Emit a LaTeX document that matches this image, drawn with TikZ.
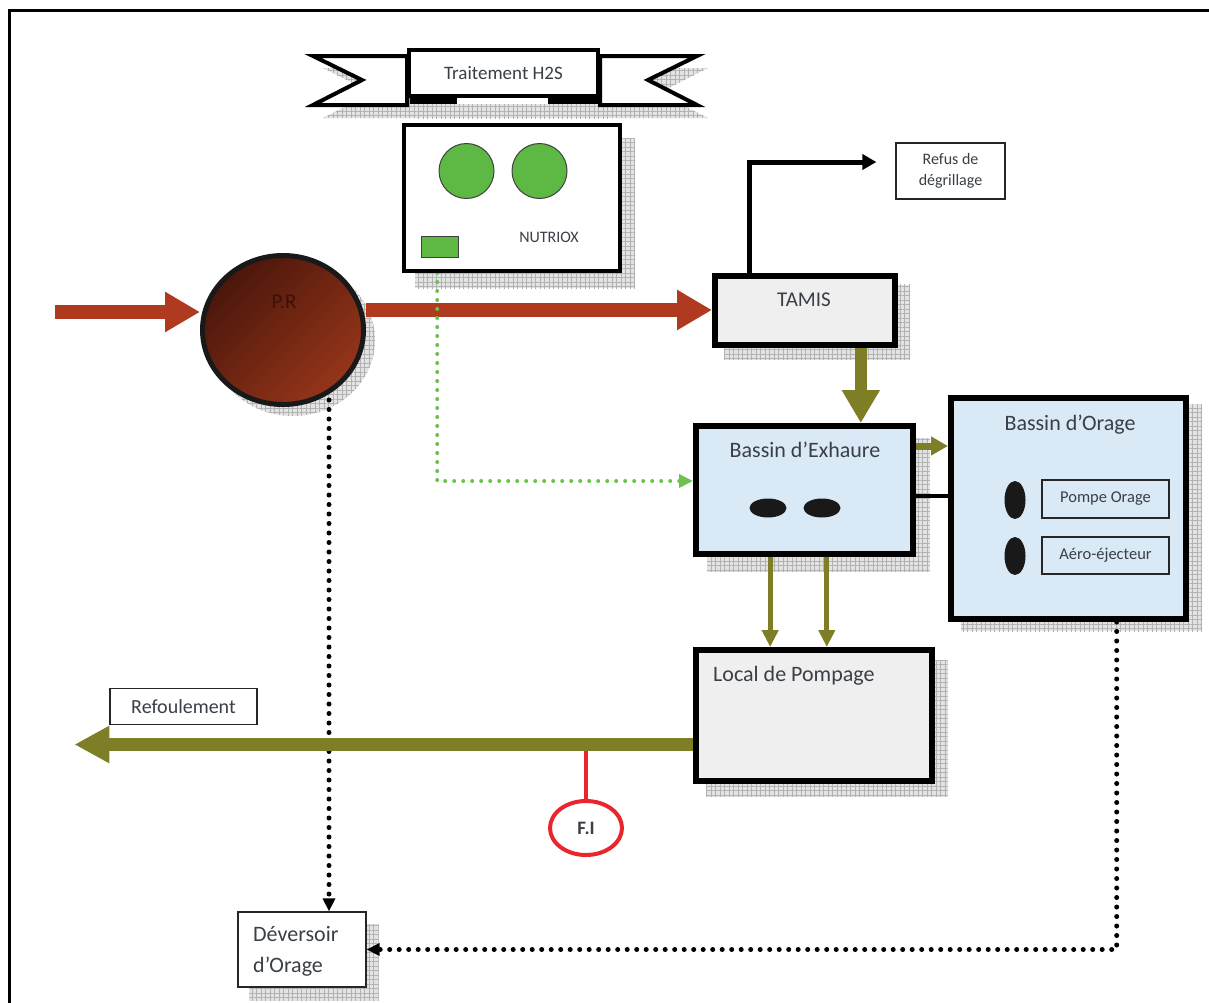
\documentclass[tikz,border=0pt]{standalone}
\usepackage{fontspec}
\setmainfont{Carlito}
\usetikzlibrary{arrows.meta,patterns,patterns.meta,calc,shapes.geometric}
\pgfdeclarelayer{shadowlayer}
\pgfdeclarelayer{connlayer}
\pgfsetlayers{shadowlayer,connlayer,main}
\definecolor{redarr}{HTML}{B03A1F}
\definecolor{olivec}{HTML}{7E7E27}
\definecolor{greenf}{HTML}{5DB844}
\definecolor{greendot}{HTML}{6CC24A}
\definecolor{bluef}{HTML}{D9E9F6}
\definecolor{grayf}{HTML}{EFEFEF}
\definecolor{txt}{HTML}{3A3F47}
\definecolor{prd}{HTML}{4A160B}
\definecolor{prl}{HTML}{963519}
\definecolor{fired}{HTML}{E8262C}
\newcommand\myfs[1]{\fontsize{#1}{#1}\selectfont}
\newcommand\dropshad[3]{\begin{pgfonlayer}{shadowlayer}\path[shadowst] ($(#1.north west)+(#2,#3)$) rectangle ($(#1.south east)+(#2,#3)$);\end{pgfonlayer}}
\begin{document}
\begin{tikzpicture}[x=1pt,y=-1pt,
  bigbox/.style={draw=black, line width=6pt, inner sep=0pt},
  thinbox/.style={draw=black!85, line width=1.2pt, fill=white, inner sep=0pt},
  shadowst/.style={fill=gray!22,
    postaction={pattern={Lines[distance=4.5pt,angle=0,line width=0.7pt]}, pattern color=gray!60},
    postaction={pattern={Lines[distance=4.5pt,angle=90,line width=0.7pt]}, pattern color=gray!60}},
  lbl/.style={text=txt, inner sep=0pt},
  redarrow/.style={draw=redarr, line width=14pt, -{Triangle[length=35pt,width=38pt]}},
  oliveb/.style={draw=olivec, line width=12pt, -{Triangle[length=33pt,width=36pt]}},
  olivem/.style={draw=olivec, line width=7pt, -{Triangle[length=17pt,width=18pt]}},
  olivet/.style={draw=olivec, line width=5pt, -{Triangle[length=17pt,width=16pt]}},
  olivel/.style={draw=olivec, line width=13pt, -{Triangle[length=35pt,width=35pt]}},
  blackarrow/.style={draw=black, line width=5pt, line join=miter, -{Triangle[length=14pt,width=15pt]}},
  dotarrow/.style={draw=black, line width=5pt, dash pattern=on 0pt off 9.5pt, line cap=round, -{Triangle[length=13pt,width=12pt]}},
  greenarrow/.style={draw=greendot, line width=4pt, dash pattern=on 0pt off 9pt, line cap=round, -{Triangle[length=14pt,width=13pt]}},
  blob/.style={ellipse, fill=black!90, inner sep=0pt}
]
\useasboundingbox (0,0) rectangle (1209,1002);
% frame
\draw[line width=3pt] (9,1010) -- (9,10) -- (1215,10);

% ---- banner Traitement H2S
\begin{pgfonlayer}{shadowlayer}
\path[shadowst] (323,68) -- (417,68) -- (417,118) -- (323,118) -- (372,93) -- cycle;
\path[shadowst] (610,68) -- (708,68) -- (659,93) -- (708,118) -- (610,118) -- cycle;
\path[shadowst] (417,104) rectangle (610,118);
\end{pgfonlayer}
\filldraw[fill=white, draw=black, line width=4pt, line join=miter] (313,56) -- (407,56) -- (407,105) -- (313,105) -- (362,80) -- cycle;
\filldraw[fill=white, draw=black, line width=4pt, line join=miter] (600,56) -- (697,56) -- (648,80) -- (697,105) -- (600,105) -- cycle;
\node[draw=black, line width=4pt, fill=white, minimum width=189pt, minimum height=46pt, inner sep=0pt, text=txt, font=\myfs{19}] (h2s) at (503.5,73) {Traitement H2S};
\fill[black] (410,97) rectangle (457,104);
\fill[black] (548,97) rectangle (600,104);

% ---- NUTRIOX
\node[draw=black, line width=4pt, fill=white, minimum width=216pt, minimum height=146pt, inner sep=0pt] (nut) at (512,198) {};
\dropshad{nut}{13}{15}
\node[circle, fill=greenf, draw=black!75, line width=1pt, minimum size=55pt, inner sep=0pt] (c1) at (466.5,171) {};
\node[circle, fill=greenf, draw=black!75, line width=1pt, minimum size=55pt, inner sep=0pt] (c2) at (539.5,171) {};
\node[draw=black!75, line width=1pt, fill=greenf, minimum width=37pt, minimum height=21pt, inner sep=0pt] (sq) at (439.5,246.5) {};
\node[lbl, font=\myfs{16}] (nutT) at (549,237) {NUTRIOX};

% ---- P.R
\begin{pgfonlayer}{shadowlayer}
\path[shadowst] (293,340) ellipse [x radius=82pt, y radius=76pt];
\end{pgfonlayer}
\node[ellipse, draw=black!90, line width=5pt, minimum width=161pt, minimum height=149pt, inner sep=0pt, top color=prd, bottom color=prl, shading angle=45] (pr) at (283,330) {};
\node[text=prd!80!black, font=\myfs{21}, inner sep=0pt] (prT) at (284,302) {P.R};

% ---- TAMIS
\node[bigbox, fill=grayf, minimum width=180pt, minimum height=69pt] (tamis) at (805,310) {};
\dropshad{tamis}{12}{12}
\node[lbl, font=\myfs{21}] (tamisT) at (804,300) {TAMIS};

% ---- Refus
\node[thinbox, minimum width=109pt, minimum height=56pt, align=center, font=\fontsize{16}{21}\selectfont, text=txt] (refus) at (950.5,171) {Refus de\\dégrillage};

% ---- Bassin d'Exhaure
\node[bigbox, fill=bluef, minimum width=217pt, minimum height=128pt] (exh) at (804.5,490) {};
\dropshad{exh}{14}{15}
\node[lbl, font=\myfs{22}] (exhT) at (805,450) {Bassin d’Exhaure};
\node[blob, minimum width=37pt, minimum height=19pt] (e1) at (768,508) {};
\node[blob, minimum width=37pt, minimum height=19pt] (e2) at (822,508) {};

% ---- Bassin d'Orage
\node[bigbox, fill=bluef, minimum width=235pt, minimum height=221pt] (orage) at (1068.5,508.5) {};
\dropshad{orage}{13}{9}
\node[lbl, font=\myfs{22}] (orageT) at (1070,425) {Bassin d’Orage};
\node[blob, minimum width=21pt, minimum height=38pt] (o1) at (1015,500) {};
\node[blob, minimum width=21pt, minimum height=38pt] (o2) at (1015,556) {};
\node[draw=black!85, line width=1.2pt, fill=bluef, minimum width=127pt, minimum height=38pt, inner sep=0pt, text=txt, font=\myfs{16.5}] (pompe) at (1105.5,499) {Pompe Orage};
\node[draw=black!85, line width=1.2pt, fill=bluef, minimum width=127pt, minimum height=37pt, inner sep=0pt, text=txt, font=\myfs{16.5}] (aero) at (1105.5,555.5) {Aéro-éjecteur};

% ---- Local de Pompage
\node[bigbox, fill=grayf, minimum width=236pt, minimum height=131pt] (local) at (814,715.5) {};
\dropshad{local}{13}{13}
\node[lbl, font=\myfs{22}, anchor=west] (localT) at (713,676) {Local de Pompage};

% ---- Refoulement
\node[thinbox, minimum width=147pt, minimum height=36pt, text=txt, font=\myfs{20}] (refoul) at (183.5,706.5) {Refoulement};

% ---- F.I
\node[ellipse, draw=fired, line width=4pt, fill=white, minimum width=72pt, minimum height=54pt, inner sep=0pt, font=\bfseries\myfs{19}, text=txt] (fi) at (586,828) {F.I};

% ---- Deversoir
\node[thinbox, minimum width=128pt, minimum height=75pt] (dev) at (302,949.5) {};
\dropshad{dev}{12}{13}
\node[lbl, anchor=west, align=left, font=\fontsize{22}{31}\selectfont] (devT) at (253,951) {Déversoir\\d’Orage};

% ---- connectors
\begin{pgfonlayer}{connlayer}
\coordinate (src) at (55,312);
\draw[redarrow] (src) -- (src -| pr.west);
\draw[redarrow] (pr.east |- tamis.west) -- (tamis.west);
% green dotted from NUTRIOX
\coordinate (gstart) at ($(nut.south west)!0.16!(nut.south east)$);
\draw[greenarrow] (gstart) |- ($(exh.west)+(0,-9)$);
% black to refus
\coordinate (tout) at ($(tamis.north west)!0.2!(tamis.north east)$);
\draw[blackarrow] (tout) |- ($(refus.west)+(-19,-9)$);
% TAMIS -> Exhaure
\coordinate (tbot) at ($(tamis.south west)!0.8!(tamis.south east)$);
\draw[oliveb] (tbot) -- (tbot |- exh.north);
% Exhaure -> Orage
\coordinate (eo) at ($(exh.north east)+(0,23)$);
\draw[olivem] (eo) -- (eo -| orage.west);
\coordinate (el) at ($(exh.north east)+(0,73)$);
\draw[line width=4pt, black] (el) -- (el -| orage.west);
% Exhaure -> Local
\coordinate (d1) at ($(exh.south west)!0.346!(exh.south east)$);
\coordinate (d2) at ($(exh.south west)!0.6!(exh.south east)$);
\draw[olivet] (d1) -- (d1 |- local.north);
\draw[olivet] (d2) -- (d2 |- local.north);
% dotted black lines
\coordinate (prb) at ($(pr.center)+(46,70)$);
\draw[dotarrow] (prb) -- (prb |- dev.north);
\coordinate (ob) at ($(orage.south west)!0.7!(orage.south east)$);
\draw[dotarrow] (ob) |- (dev.east);
% F.I
\coordinate (lout) at ($(local.west)+(0,29)$);
\coordinate (refend) at ($(refoul.south west)+(-35,21)$);
\draw[fired, line width=4pt] (fi.north) -- (fi.north |- lout);
% Refoulement
\draw[olivel] (lout) -- (lout -| refend);
\end{pgfonlayer}
\end{tikzpicture}
\end{document}
